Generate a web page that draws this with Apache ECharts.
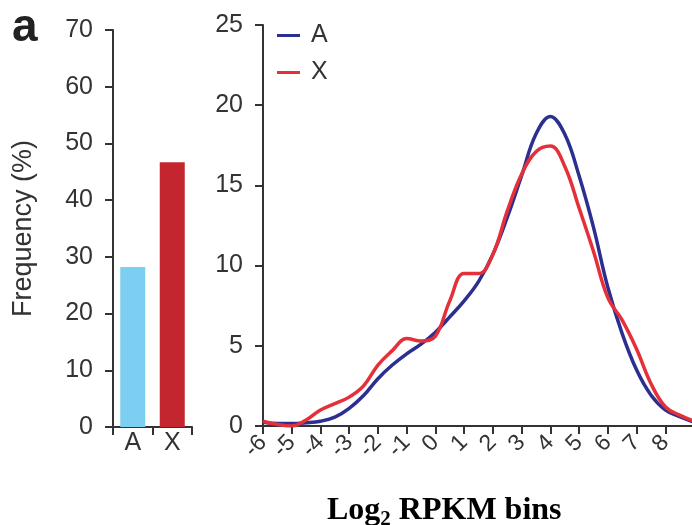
<!DOCTYPE html>
<html>
<head>
<meta charset="utf-8">
<script src="https://cdn.jsdelivr.net/npm/echarts@6/dist/echarts.min.js"></script>
<style>
  html, body { margin: 0; padding: 0; background: #fff; }
  #main { width: 692px; height: 525px; }
</style>
</head>
<body>
<div id="main"></div>
<script>
// bar panel: share of genes per chromosome type
const barCats = ['A', 'X']
const barVals = [28.2, 46.7]
const barColors = ['#7ccff0', '#c3262e']

// density panel: log2 RPKM bins
const bins = [-6, -5.5, -5, -4.5, -4, -3.5, -3, -2.5, -2, -1.5, -1, -0.5, 0, 0.5, 1, 1.5,
  2, 2.5, 3, 3.5, 4, 4.5, 5, 5.5, 6, 6.5, 7, 7.5, 8, 8.5, 9]
const seriesA = [0.23, 0.15, 0.15, 0.2, 0.3, 0.55, 1.1, 1.9, 2.95, 3.8, 4.5, 5.1, 5.85, 6.8, 7.8, 9.0,
  10.7, 13.0, 15.6, 18.2, 19.3, 18.2, 15.6, 12.4, 8.65, 5.76, 3.5, 1.93, 1.0, 0.58, 0.25]
const seriesX = [0.3, 0.1, 0.0, 0.37, 1.0, 1.4, 1.8, 2.5, 3.8, 4.7, 5.45, 5.3, 5.6, 7.8, 9.5, 9.5,
  10.7, 13.4, 15.7, 17.1, 17.45, 16.2, 13.6, 10.9, 8.0, 6.6, 4.8, 2.65, 1.2, 0.68, 0.3]
const xTicks = [-6, -5, -4, -3, -2, -1, 0, 1, 2, 3, 4, 5, 6, 7, 8]

const lineA = '#2b2f8f'
const lineX = '#e5303a'
const axisColor = '#333333'
const textColor = '#333333'
const sans = 'Liberation Sans'

let chartDom = document.getElementById('main')
let myChart = echarts.init(chartDom)

let axisLine = { show: true, onZero: false, lineStyle: { color: axisColor, width: 2 } }
let axisTick = { show: true, length: 8, lineStyle: { color: axisColor, width: 2 } }

let option = {
  animation: false,
  title: [
    {
      text: 'a',
      left: 7,
      top: 0,
      textStyle: { fontFamily: sans, fontWeight: 'bold', fontSize: 46, color: '#222' }
    },
    {
      text: '{a|Log}{s|2}{a| RPKM bins}',
      left: 322,
      top: 490,
      textStyle: {
        rich: {
          a: { fontFamily: 'Liberation Serif', fontWeight: 'bold', fontSize: 32, lineHeight: 32, color: '#000', verticalAlign: 'top' },
          s: { fontFamily: 'Liberation Serif', fontWeight: 'bold', fontSize: 21, lineHeight: 21, color: '#000', verticalAlign: 'top', padding: [14, 0, 0, 0] }
        }
      }
    }
  ],
  legend: {
    data: ['A', 'X'],
    orient: 'vertical',
    left: 272,
    top: 18,
    icon: 'rect',
    itemWidth: 23,
    itemHeight: 3,
    itemGap: 12,
    textStyle: { fontFamily: sans, fontSize: 25, color: textColor, padding: [0, 0, 0, 6] }
  },
  grid: [
    { left: 113, top: 30, width: 79, height: 397, containLabel: false, outerBoundsMode: 'none' },
    { left: 263, top: 25, width: 431, height: 401, containLabel: false, outerBoundsMode: 'none' }
  ],
  xAxis: [
    {
      gridIndex: 0,
      type: 'category',
      data: barCats,
      axisLine: axisLine,
      axisTick: axisTick,
      axisLabel: { fontFamily: sans, fontSize: 25, color: textColor, margin: 4 }
    },
    {
      gridIndex: 1,
      type: 'value',
      min: -6,
      max: 9,
      interval: 1,
      axisLine: axisLine,
      axisTick: axisTick,
      splitLine: { show: false },
      axisLabel: {
        fontFamily: sans,
        fontSize: 23,
        color: textColor,
        rotate: 45,
        margin: 13,
        showMinLabel: true,
        formatter: v => (xTicks.indexOf(v) >= 0 ? String(v) : '')
      }
    }
  ],
  yAxis: [
    {
      gridIndex: 0,
      type: 'value',
      min: 0,
      max: 70,
      interval: 10,
      name: 'Frequency (%)',
      nameLocation: 'middle',
      nameGap: 76,
      nameTextStyle: { fontFamily: sans, fontSize: 27, color: textColor },
      axisLine: axisLine,
      axisTick: axisTick,
      splitLine: { show: false },
      axisLabel: { fontFamily: sans, fontSize: 25, color: textColor, margin: 20 }
    },
    {
      gridIndex: 1,
      type: 'value',
      min: 0,
      max: 25,
      interval: 5,
      axisLine: axisLine,
      axisTick: axisTick,
      splitLine: { show: false },
      axisLabel: { fontFamily: sans, fontSize: 25, color: textColor, margin: 20 }
    }
  ],
  series: [
    {
      type: 'bar',
      xAxisIndex: 0,
      yAxisIndex: 0,
      barWidth: 25,
      data: barVals.map((v, i) => ({ value: v, itemStyle: { color: barColors[i] } }))
    },
    {
      name: 'A',
      type: 'line',
      xAxisIndex: 1,
      yAxisIndex: 1,
      smooth: 0.4,
      symbol: 'none',
      color: lineA,
      lineStyle: { color: lineA, width: 3.5 },
      data: bins.map((b, i) => [b, seriesA[i]])
    },
    {
      name: 'X',
      type: 'line',
      xAxisIndex: 1,
      yAxisIndex: 1,
      smooth: 0.4,
      symbol: 'none',
      color: lineX,
      lineStyle: { color: lineX, width: 3.5 },
      data: bins.map((b, i) => [b, seriesX[i]])
    }
  ]
}

option && myChart.setOption(option)
</script>
</body>
</html>
